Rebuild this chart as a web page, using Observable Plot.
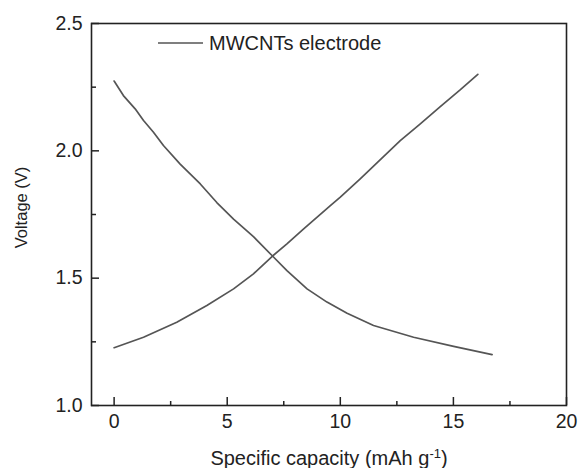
<!DOCTYPE html>
<html>
<head>
<meta charset="utf-8">
<script src="https://cdn.jsdelivr.net/npm/d3@7"></script>
<script src="https://cdn.jsdelivr.net/npm/@observablehq/plot@0.6"></script>
<style>
  html, body { margin: 0; padding: 0; background: #fff; }
  #wrap { position: relative; width: 578px; height: 468px; font-family: "Liberation Sans", Arial, sans-serif; }
  #legend { position: absolute; left: 158px; top: 31px; height: 24px; display: flex; align-items: center; font-size: 20px; color: #222; }
  #legend svg { display: block; margin-right: 6px; }
</style>
</head>
<body>
<div id="wrap"><div id="legend"></div></div>
<script>
// Charge curve (rising)
const chargeCapacity = [0, 1.30, 2.77, 4.10, 5.28, 6.16, 6.98, 7.64, 8.38, 9.56, 10.00, 10.88, 11.47, 12.65, 13.51, 14.42, 15.31, 16.08];
const chargeVoltage  = [1.227, 1.268, 1.327, 1.393, 1.458, 1.517, 1.585, 1.635, 1.694, 1.785, 1.818, 1.890, 1.940, 2.040, 2.104, 2.174, 2.240, 2.300];
// Discharge curve (falling)
const dischargeCapacity = [0, 0.41, 0.93, 1.30, 1.74, 2.18, 2.92, 3.81, 4.54, 5.28, 6.16, 6.98, 7.64, 8.53, 9.41, 10.30, 11.47, 13.24, 15.01, 16.71];
const dischargeVoltage  = [2.274, 2.217, 2.165, 2.119, 2.073, 2.021, 1.948, 1.870, 1.797, 1.732, 1.663, 1.589, 1.530, 1.458, 1.406, 1.362, 1.314, 1.268, 1.232, 1.200];

const xMajorTicks = [0, 5, 10, 15, 20];
const xMinorTicks = [2.5, 7.5, 12.5, 17.5];
const yMajorTicks = [1.0, 1.5, 2.0, 2.5];
const yMinorTicks = [1.25, 1.75, 2.25];
const seriesName = "MWCNTs electrode";
const xLabel = "Specific capacity (mAh g-1)";
const yLabel = "Voltage (V)";

const charge = chargeCapacity.map((c, i) => ({c, v: chargeVoltage[i]}));
const discharge = dischargeCapacity.map((c, i) => ({c, v: dischargeVoltage[i]}));

const W = 578, H = 468, mL = 91, mR = 12, mT = 23, mB = 63;
const innerW = W - mL - mR, innerH = H - mT - mB;
const lineColor = "#555555", axisColor = "#222222";

const chart = Plot.plot({
  width: W, height: H,
  marginLeft: mL, marginRight: mR, marginTop: mT, marginBottom: mB,
  style: {fontFamily: '"Liberation Sans", Arial, sans-serif', fontSize: "19.5px", color: axisColor, background: "transparent"},
  x: {domain: [-1, 20]},
  y: {domain: [1.0, 2.5]},
  marks: [
    Plot.axisX(xMajorTicks, {tickSize: 0, tickPadding: 9, label: null, fontSize: 19.5, tickFormat: d => String(d)}),
    Plot.axisY(yMajorTicks, {tickSize: 0, tickPadding: 9, label: null, fontSize: 19.5, tickFormat: d => d.toFixed(1)}),
    Plot.tickX(xMajorTicks, {x: d => d, insetTop: innerH - 8, stroke: axisColor, strokeWidth: 1.5}),
    Plot.tickX(xMinorTicks, {x: d => d, insetTop: innerH - 4, stroke: axisColor, strokeWidth: 1.5}),
    Plot.tickY(yMajorTicks, {y: d => d, insetRight: innerW - 8, stroke: axisColor, strokeWidth: 1.5}),
    Plot.tickY(yMinorTicks, {y: d => d, insetRight: innerW - 5, stroke: axisColor, strokeWidth: 1.5}),
    Plot.line(discharge, {x: "c", y: "v", stroke: lineColor, strokeWidth: 1.7}),
    Plot.line(charge, {x: "c", y: "v", stroke: lineColor, strokeWidth: 1.7}),
    Plot.frame({stroke: axisColor, strokeWidth: 1.6}),
    Plot.text([xLabel], {frameAnchor: "bottom", dy: 59, lineAnchor: "bottom", fontSize: 20, fill: axisColor, text: d => d}),
    Plot.text([yLabel], {frameAnchor: "left", textAnchor: "middle", dx: -70, dy: -7, rotate: -90, fontSize: 16.5, fill: axisColor, text: d => d})
  ]
});

// superscript for the unit
d3.select(chart).selectAll("text").filter(function() { return this.textContent === xLabel; }).each(function() {
  const t = d3.select(this);
  t.text(null);
  t.append("tspan").text("Specific capacity (mAh g");
  t.append("tspan").attr("dy", "-7").attr("font-size", "13").text("-1");
  t.append("tspan").attr("dy", "7").text(")");
});

document.getElementById("wrap").appendChild(chart);
chart.style.position = "absolute";
chart.style.left = "0px";
chart.style.top = "0px";

const legend = document.getElementById("legend");
legend.innerHTML = `<svg width="45" height="4"><line x1="0" x2="45" y1="2" y2="2" stroke="${lineColor}" stroke-width="1.7"/></svg><span></span>`;
legend.querySelector("span").textContent = seriesName;
document.getElementById("wrap").appendChild(legend);
</script>
</body>
</html>
